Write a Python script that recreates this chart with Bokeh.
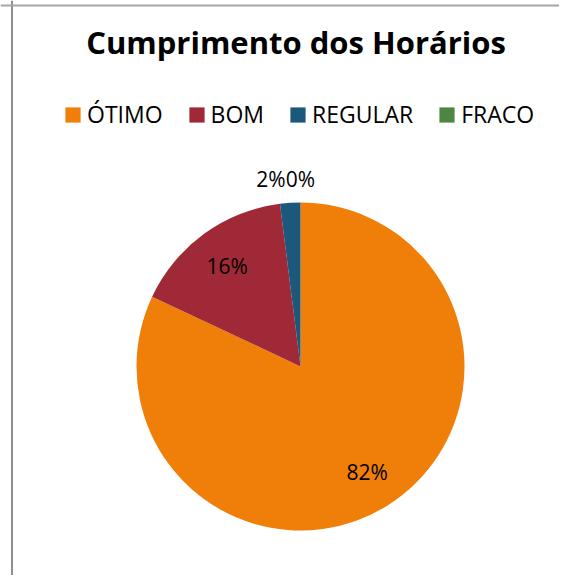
import math
from bokeh.plotting import figure
from bokeh.models import ColumnDataSource, Legend, LegendItem, Span
from bokeh.core.properties import value
from bokeh.embed import file_html
from bokeh.resources import INLINE

title_text = "Cumprimento dos Horários"
categories = ["ÓTIMO", "BOM", "REGULAR", "FRACO"]
percentages = [82, 16, 2, 0]
colors = ["#F07F09", "#9F2936", "#1B587C", "#4E8542"]

W, H = 559, 575
cx, cy, R = 300, H - 366, 164
FONT = "Open Sans"

total = sum(percentages)
starts, ends, mids, radii = [], [], [], []
cum = 0
for v in percentages:
    a0 = math.pi / 2 - 2 * math.pi * cum / total
    cum += v
    a1 = math.pi / 2 - 2 * math.pi * cum / total
    starts.append(a0)
    ends.append(a1)
    mids.append((a0 + a1) / 2)
    radii.append(R if v > 0 else 0)

# label positions
lx, ly, align = [], [], []
for v, m in zip(percentages, mids):
    r = 0.76 * R if v >= 5 else R + 24
    lx.append(cx + r * math.cos(m))
    ly.append(cy + r * math.sin(m))
    align.append("center")
# resolve collisions of outside labels
for i in range(len(percentages) - 1):
    if percentages[i] < 5 and percentages[i + 1] < 5 and abs(lx[i] - lx[i + 1]) < 30:
        lx[i] = lx[i + 1] - 15
        align[i] = "right"

src = ColumnDataSource(dict(cat=categories, start=starts, end=ends, color=colors, r=radii))
lab = ColumnDataSource(dict(x=lx, y=ly, text=[f"{v}%" for v in percentages], align=align))

p = figure(width=W, height=H, x_range=(0, W), y_range=(0, H), min_border=0,
           toolbar_location=None, output_backend="svg",
           x_axis_location=None, y_axis_location=None)
p.grid.visible = False
p.outline_line_color = None
p.background_fill_color = "white"

wr = p.wedge(x=cx, y=cy, radius="r", start_angle="start", end_angle="end",
             direction="clock", fill_color="color", line_color=None, source=src)

p.text(x="x", y="y", text="text", source=lab, text_align="align",
       text_baseline="middle", text_font=value(FONT), text_font_size="21px",
       text_color="#000000")

p.text(x=[295.5], y=[H - 41], text=[title_text], text_align="center",
       text_baseline="middle", text_font=value(FONT), text_font_size="31px",
       text_font_style="bold", text_color="#000000")

legend = Legend(items=[LegendItem(label=c, renderers=[wr], index=i) for i, c in enumerate(categories)],
                orientation="horizontal", location=(63, H - 130),
                label_text_font=FONT, label_text_font_size="23px", label_text_color="#000000",
                glyph_width=19, glyph_height=19, label_standoff=5, spacing=24,
                padding=0, margin=0, border_line_color=None, background_fill_alpha=0)
p.add_layout(legend)

p.add_layout(Span(location=11.5, dimension="height", line_color="#8f8f8f", line_width=2))
p.add_layout(Span(location=H - 5, dimension="width", line_color="#a6a6a6", line_width=2))

open("out.html", "w").write(file_html(p, INLINE))
